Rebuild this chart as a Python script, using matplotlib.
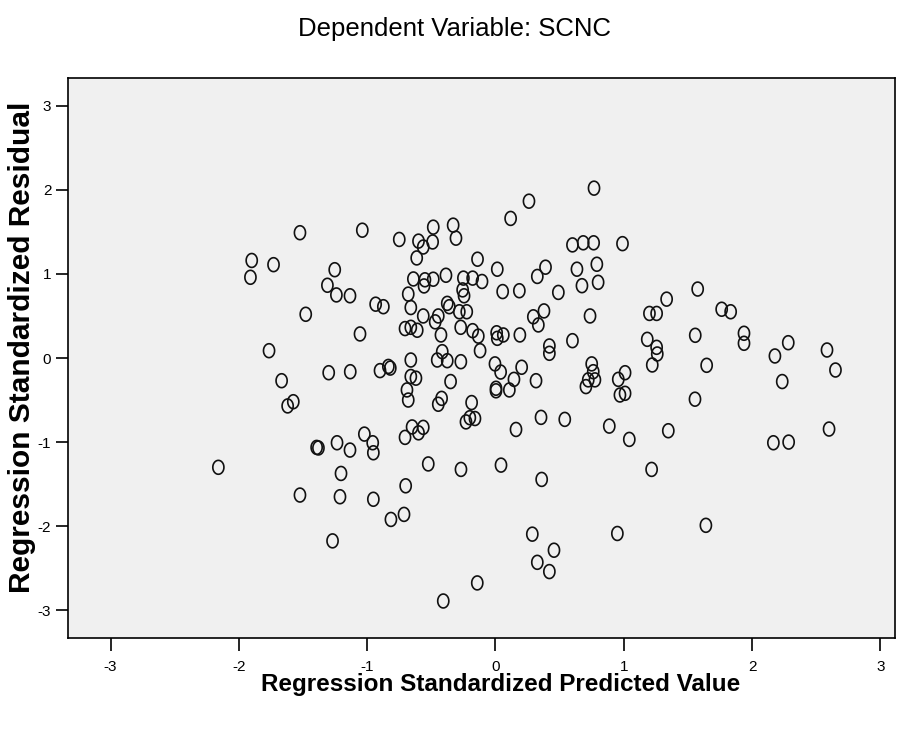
import matplotlib
matplotlib.use("Agg")
import matplotlib.pyplot as plt
import numpy as np
from matplotlib.path import Path

# Regression standardized predicted value (x) and standardized residual (y)
pred = [
    -1.524, -1.038, -0.75, -0.60, -1.90, -1.73, -1.91, -1.253, -1.31, -1.24,
    -1.134, -0.934, -0.874, -1.479, -0.64, -0.614, -0.68, -0.66,
    0.768, 0.261, 0.118, 0.60, 0.684, 0.765, 0.99, -0.485, -0.33, -0.308,
    -0.49, -0.563, -0.14, 0.014, 0.39, 0.326, 0.635, 0.79, 0.674, 0.80,
    -0.55, -0.557, -0.485, -0.386, -0.25, -0.178, -0.105, -0.256, -0.245,
    0.056, 0.186, 0.49, -0.376, -0.36, -0.563, -0.446, -0.282, -0.224,
    0.295, 0.378, 0.737,
    1.576, 1.334, 1.20, 1.256, 1.763, 1.833,
    -1.056, -1.765, -1.30, -1.132, -0.90, -0.835, -0.82, -1.667, -1.62,
    -1.576, -0.705, -0.66, -0.61, -0.66, -0.66, -0.62, -0.69, -0.68,
    -1.394, -1.38, -1.235, -1.134, -1.022, -0.957, -0.952, -0.705, -0.65, -0.60,
    -0.47, -0.425, -0.271, -0.178, -0.134, 0.009, 0.014, 0.061, 0.19, 0.334,
    0.42, 0.42, 0.60, -0.454, -0.415, -0.376, -0.27, -0.12, -0.004, 0.04,
    0.204, 0.144, 0.004, 0.004, 0.108, 0.316, 0.75, 0.762, 0.723, 0.705,
    0.775, 0.957, 1.01, 0.97, 1.01, -0.35, -0.446, -0.42, -0.186, -0.23,
    -0.20, -0.16, 0.16, 0.355, 0.54, 0.887, 1.043, -0.563,
    1.183, 1.256, 1.261, 1.222, 1.557, 1.646, 1.937, 1.937, 2.178, 2.282,
    2.235, 2.584, 2.65, 1.555, 1.347, 2.166, 2.285, 2.60,
    -2.16, -1.204, -1.524, -1.212, -0.952, -0.70, -0.713, -0.815, -1.27,
    -0.524, -0.269, 0.043, 0.36, 0.287, 0.456, 0.326, 0.42, 0.95, -0.142, -0.407,
    1.217, 1.64,
]
resid = [
    1.49, 1.52, 1.41, 1.39, 1.16, 1.11, 0.96, 1.05, 0.865, 0.75,
    0.74, 0.64, 0.61, 0.52, 0.94, 1.19, 0.76, 0.60,
    2.02, 1.865, 1.66, 1.345, 1.37, 1.37, 1.36, 1.556, 1.58, 1.425,
    1.38, 1.32, 1.175, 1.056, 1.08, 0.97, 1.056, 1.115, 0.86, 0.90,
    0.93, 0.857, 0.937, 0.984, 0.95, 0.95, 0.91, 0.81, 0.74,
    0.79, 0.80, 0.78, 0.65, 0.61, 0.50, 0.50, 0.55, 0.55,
    0.49, 0.56, 0.50,
    0.82, 0.70, 0.53, 0.53, 0.58, 0.55,
    0.286, 0.087, -0.175, -0.163, -0.15, -0.10, -0.12, -0.27, -0.57,
    -0.52, 0.35, 0.365, 0.33, -0.024, -0.22, -0.24, -0.38, -0.50,
    -1.063, -1.07, -1.008, -1.095, -0.905, -1.008, -1.127, -0.944, -0.82, -0.89,
    0.43, 0.274, 0.365, 0.325, 0.26, 0.30, 0.234, 0.274, 0.274, 0.393,
    0.143, 0.056, 0.206, -0.024, 0.075, -0.032, -0.044, 0.087, -0.07, -0.167,
    -0.11, -0.254, -0.36, -0.39, -0.38, -0.27, -0.07, -0.163, -0.26, -0.34,
    -0.26, -0.254, -0.175, -0.44, -0.42, -0.28, -0.55, -0.48, -0.53, -0.76,
    -0.71, -0.72, -0.85, -0.706, -0.73, -0.81, -0.968, -0.825,
    0.222, 0.127, 0.048, -0.083, 0.27, -0.087, 0.294, 0.175, 0.024, 0.182,
    -0.28, 0.095, -0.143, -0.49, -0.865, -1.008, -1.0, -0.845,
    -1.30, -1.373, -1.63, -1.65, -1.68, -1.52, -1.86, -1.92, -2.175,
    -1.26, -1.325, -1.274, -1.444, -2.095, -2.286, -2.43, -2.54, -2.087, -2.675, -2.89,
    -1.325, -1.99,
]
ticks = [-3, -2, -1, 0, 1, 2, 3]
tick_labels = ["-3", "-2", "-1", "0", "1", "2", "3"]

plt.rcParams['font.family'] = ['Liberation Sans', 'DejaVu Sans']

fig = plt.figure(figsize=(9.08, 7.29), dpi=100)
ax = fig.add_axes([68/908, 1-638/729, (895-68)/908, (638-78)/729])
ax.set_facecolor('#F0F0F0')

# ellipse marker (slightly taller than wide)
t = np.linspace(0, 2*np.pi, 60)
ell = Path(np.column_stack([0.4*np.cos(t), 0.5*np.sin(t)]), closed=True)

ax.scatter(pred, resid, marker=ell, s=10**2, facecolors='none',
           edgecolors='#111111', linewidths=1.2, zorder=3)

ax.set_xlim(-3.332, 3.114)
ax.set_ylim(-3.33, 3.33)
ax.set_xticks(ticks)
ax.set_xticklabels(tick_labels)
ax.set_yticks(ticks)
ax.set_yticklabels(tick_labels)
ax.tick_params(direction='out', length=9, width=1.2, labelsize=11, colors='black')
ax.tick_params(axis='x', pad=7)
ax.tick_params(axis='y', pad=3)
for s in ax.spines.values():
    s.set_linewidth(1.2)
    s.set_color('black')

fig.text(455/908, 1-29/729, "Dependent Variable: SCNC", ha='center', va='center', fontsize=18.5)
fig.text(501/908, 1-685/729, "Regression Standardized Predicted Value", ha='center', va='center',
         fontsize=17.5, fontweight='bold')
fig.text(22/908, 1-347/729, "Regression Standardized Residual", ha='center', va='center',
         fontsize=21.5, fontweight='bold', rotation=90)

fig.savefig("out.png", dpi=100)
